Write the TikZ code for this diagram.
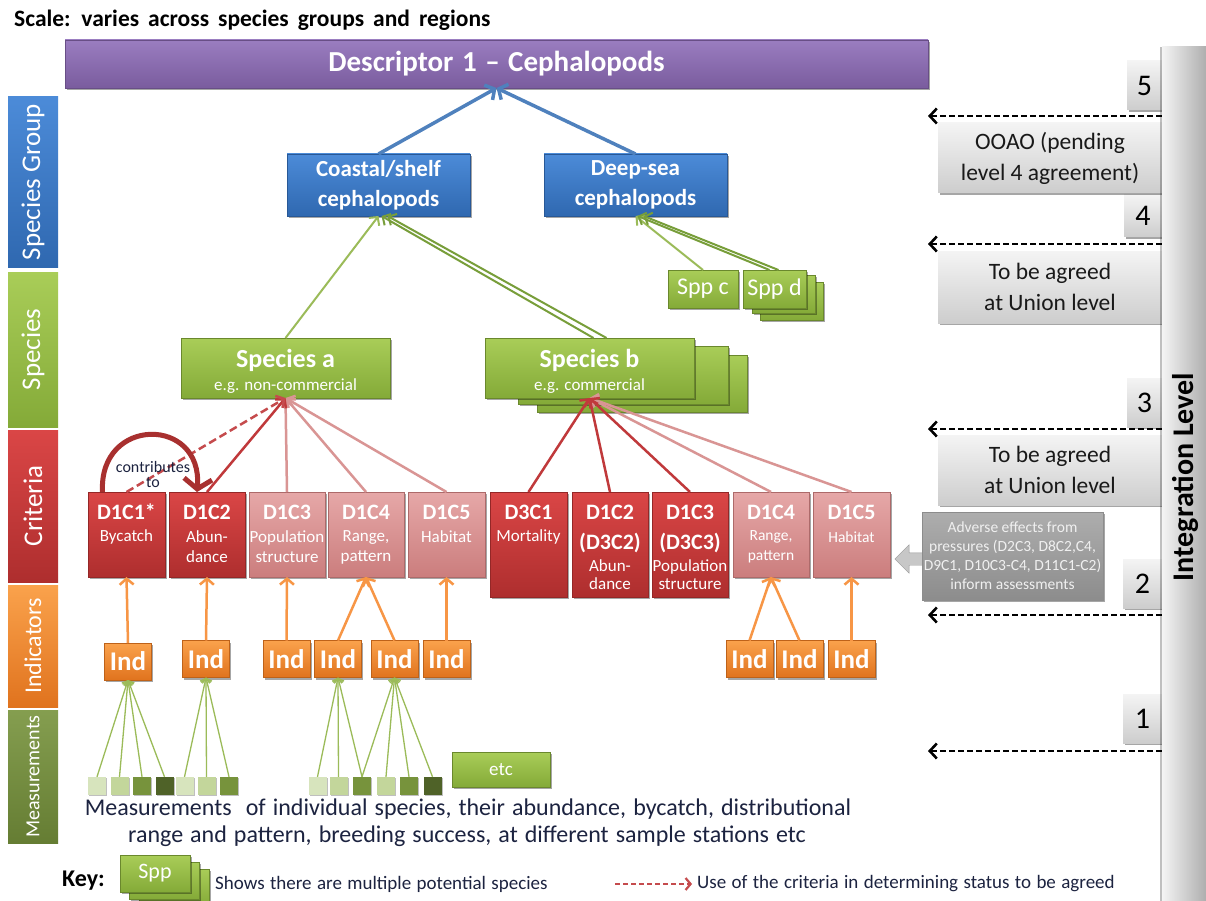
\documentclass[tikz,border=0pt]{standalone}
\usepackage{fontspec}
\setmainfont{Carlito}
\usetikzlibrary{arrows.meta,shadows,shapes.arrows}

\definecolor{purpleA}{HTML}{9A7DC0}
\definecolor{purpleB}{HTML}{7A5C9E}
\definecolor{blueA}{HTML}{4C8BD8}
\definecolor{blueB}{HTML}{2F68B0}
\definecolor{blueLine}{HTML}{4F81BD}
\definecolor{greenA}{HTML}{A9CD58}
\definecolor{greenB}{HTML}{84AA38}
\definecolor{greenLine}{HTML}{9BBB59}
\definecolor{greenDark}{HTML}{789E3A}
\definecolor{redA}{HTML}{DA4646}
\definecolor{redB}{HTML}{AE2E2E}
\definecolor{redLine}{HTML}{C0393B}
\definecolor{pinkA}{HTML}{E6A8A8}
\definecolor{pinkB}{HTML}{CB7D7D}
\definecolor{pinkLine}{HTML}{D99594}
\definecolor{orangeA}{HTML}{FAA24C}
\definecolor{orangeB}{HTML}{E0731E}
\definecolor{orangeLine}{HTML}{F79646}
\definecolor{greyA}{HTML}{F4F4F4}
\definecolor{greyB}{HTML}{CDCDCD}
\definecolor{ink}{HTML}{1C2340}
\definecolor{m1}{HTML}{D7E4BD}
\definecolor{m2}{HTML}{C3D69B}
\definecolor{m3}{HTML}{77933C}
\definecolor{m4}{HTML}{4F6228}
\definecolor{contribRed}{HTML}{A8302F}

% widen the interword space of the current font by a factor
\newcommand{\widewords}[1]{\spaceskip=#1\fontdimen2\font plus 1pt\relax}

\begin{document}
\begin{tikzpicture}[x=1pt,y=-1pt,
  shad/.style={drop shadow={shadow xshift=1.5pt,shadow yshift=-2pt,opacity=.35,fill=black}},
  boxbase/.style={rectangle,inner sep=0pt,outer sep=0pt,shad},
  descbox/.style={boxbase,top color=purpleA,bottom color=purpleB,draw=purpleB!85!black,line width=.5pt,text=white,font=\bfseries\fontsize{29}{33}\selectfont\widewords{1.3}},
  grpbox/.style={boxbase,top color=blueA,bottom color=blueB,draw=blueB!85!black,line width=.5pt,minimum width=183pt,minimum height=62pt,text=white,align=center,font=\bfseries\fontsize{23}{30}\selectfont},
  sppbox/.style={boxbase,top color=greenA,bottom color=greenB,draw=greenB!80!black,line width=.5pt,text=white},
  darkcrit/.style={boxbase,top color=redA,bottom color=redB,draw=redB!85!black,line width=.5pt,minimum width=76pt},
  pinkcrit/.style={boxbase,top color=pinkA,bottom color=pinkB,draw=pinkB!85!black,line width=.5pt,minimum width=76pt},
  crittitle/.style={text=white,font=\bfseries\fontsize{22}{25}\selectfont,inner sep=0pt},
  critsub/.style={text=white,align=center,font=\fontsize{17}{20}\selectfont,inner sep=0pt},
  indbox/.style={boxbase,top color=orangeA,bottom color=orangeB,draw=orangeB!85!black,line width=.5pt,minimum width=47pt,minimum height=37pt,text=white,font=\bfseries\fontsize{27}{30}\selectfont},
  msq/.style={rectangle,inner sep=0pt,minimum size=18pt,drop shadow={shadow xshift=1pt,shadow yshift=-1pt,opacity=.25,fill=black}},
  greybox/.style={boxbase,top color=greyA,bottom color=greyB,minimum width=224pt,align=center,text=black!90,font=\fontsize{23.5}{31}\selectfont},
  numbox/.style={boxbase,top color=greyA,bottom color=greyB,font=\fontsize{30}{34}\selectfont,text=black},
  band/.style={rectangle,inner sep=0pt,rotate=90,minimum height=50pt,text=white,font=\fontsize{27}{30}\selectfont},
  bluearr/.style={draw=blueLine,line width=3.5pt,-{Straight Barb[length=7pt,width=17pt]}},
  greenarr/.style={draw=greenLine,line width=2pt,-{Straight Barb[length=6pt,width=13pt]}},
  greenpair/.style={draw=greenDark,line width=2pt,-{Straight Barb[length=6pt,width=13pt]}},
  redarr/.style={draw=redLine,line width=2.5pt,-{Straight Barb[length=6pt,width=14pt]}},
  pinkarr/.style={draw=pinkLine,line width=2.5pt,-{Straight Barb[length=6pt,width=14pt]}},
  orangearr/.style={draw=orangeLine,line width=2.5pt,-{Straight Barb[length=6pt,width=14pt]}},
  measarr/.style={draw=greenLine,line width=1.3pt,-{Straight Barb[length=4pt,width=10pt]}},
  dasharr/.style={draw=black,line width=2.6pt,dash pattern=on 6pt off 3pt,-{Straight Barb[length=7pt,width=15pt]}},
  contribarr/.style={draw=contribRed,line width=5pt,-{Straight Barb[length=10pt,width=28pt]}}
]
\useasboundingbox (0,0) rectangle (1206,901);
\fill[white] (0,0) rectangle (1206,901);

% ---------- heading ----------
\node[anchor=west,inner sep=0pt,font=\bfseries\fontsize{23.5}{26}\selectfont\widewords{1.7}] (scale) at (14,20) {Scale: varies across species groups and regions};

% ---------- level bands on the left ----------
\node[band,top color=blueA,bottom color=blueB,minimum width=170pt] (bSG) at (33,182) {Species Group};
\node[band,top color=greenA,bottom color=greenB,minimum width=155pt] (bSP) at (33,349.5) {Species};
\node[band,top color=redA,bottom color=redB,minimum width=152pt] (bCR) at (33,506) {Criteria};
\node[band,top color=orangeA,bottom color=orangeB,minimum width=122pt,font=\fontsize{24}{27}\selectfont] (bIN) at (33,646) {Indicators};
\node[band,top color=m3!90!white,bottom color=m3!85!black,minimum width=133pt,font=\fontsize{20}{23}\selectfont] (bME) at (33,776.5) {Measurements};

% ---------- integration level column ----------
\node[numbox,minimum width=35pt,minimum height=49pt] (n5) at (1144.5,85.5) {5};
\node[numbox,minimum width=38pt,minimum height=42pt] (n4) at (1143,216) {4};
\node[numbox,minimum width=35pt,minimum height=49pt] (n3) at (1144.5,402.5) {3};
\node[numbox,minimum width=39pt,minimum height=49pt] (n2) at (1142.5,583.5) {2};
\node[numbox,minimum width=39pt,minimum height=49pt] (n1) at (1142.5,718.5) {1};

\node[greybox,minimum height=70pt] (g5) at (1050,158) {OOAO (pending\\level 4 agreement)};
\node[greybox,minimum height=72pt] (g4) at (1050,287) {To be agreed\\at Union level};
\node[greybox,minimum height=70pt] (g3) at (1050,470) {To be agreed\\at Union level};

\node[rectangle,inner sep=0pt,left color=greyA,right color=greyB!85!black,minimum width=44pt,minimum height=854pt,
      drop shadow={shadow xshift=-2pt,shadow yshift=0pt,opacity=.25,fill=black}] (bar) at (1184,474) {};
\node[rotate=90,inner sep=0pt,font=\bfseries\fontsize{30}{33}\selectfont] (barlabel) at (1185,477) {Integration Level};

\coordinate (t5) at (928,116);
\coordinate (t4) at (928,244);
\coordinate (t3) at (928,429);
\coordinate (t2) at (928,615);
\coordinate (t1) at (928,751);
\draw[dasharr] (bar.west |- t5) -- (t5);
\draw[dasharr] (bar.west |- t4) -- (t4);
\draw[dasharr] (bar.west |- t3) -- (t3);
\draw[dasharr] (bar.west |- t2) -- (t2);
\draw[dasharr] (bar.west |- t1) -- (t1);

% pressures box with its pointer
\node[single arrow,shape border rotate=180,draw=black!40,fill=black!22,inner sep=6pt,
      single arrow head extend=8pt,minimum height=28pt] (advarr) at (912,559) {};
\node[boxbase,top color=black!32,bottom color=black!45,draw=black!45,minimum width=181pt,minimum height=88pt,
      align=center,text=white!94!black,font=\fontsize{15.5}{19}\selectfont] (adv) at (1012.5,556)
      {Adverse effects from\\pressures (D2C3, D8C2,C4,\\D9C1, D10C3-C4, D11C1-C2)\\inform assessments};

% ---------- descriptor and species groups ----------
\node[descbox,minimum width=863pt,minimum height=48pt] (desc) at (496.5,64) {Descriptor 1 – Cephalopods};
\node[grpbox] (coast) at (378.5,185) {Coastal/shelf\\cephalopods};
\node[grpbox] (deep) at (635.5,185) {Deep-sea\\cephalopods};

\draw[bluearr] (coast.north) -- (desc.south);
\draw[bluearr] (deep.north) -- (desc.south);

% ---------- species ----------
\node[sppbox,minimum width=70pt,minimum height=38pt,font=\fontsize{24}{27}\selectfont] (sppc) at (703,289) {Spp c};
\node[sppbox,minimum width=63pt,minimum height=38pt] (sppd3) at (792,301) {};
\node[sppbox,minimum width=63pt,minimum height=38pt] (sppd2) at (783.5,294) {};
\node[sppbox,minimum width=63pt,minimum height=38pt,font=\fontsize{24}{27}\selectfont] (sppd) at (774.5,289) {Spp d};

\node[sppbox,minimum width=209pt,minimum height=60pt] (spa) at (285.5,368) {};
\node[text=white,inner sep=0pt,font=\bfseries\fontsize{26}{30}\selectfont] (spat) at ([yshift=8pt]spa.center) {Species a};
\node[text=white,inner sep=0pt,font=\fontsize{17}{19}\selectfont] (spas) at ([yshift=-18pt]spa.center) {e.g. non-commercial};

\node[sppbox,minimum width=210pt,minimum height=57pt] (spb3) at (642,383.5) {};
\node[sppbox,minimum width=210pt,minimum height=58pt] (spb2) at (623.5,375) {};
\node[sppbox,minimum width=209pt,minimum height=60pt] (spb) at (589.5,368) {};
\node[text=white,inner sep=0pt,font=\bfseries\fontsize{26}{30}\selectfont] (spbt) at ([yshift=8pt]spb.center) {Species b};
\node[text=white,inner sep=0pt,font=\fontsize{17}{19}\selectfont] (spbs) at ([yshift=-18pt]spb.center) {e.g. commercial};

\draw[greenarr] (spa.north) -- (coast.south);
\draw[greenpair] ([xshift=4pt]spb.north) -- ([xshift=3pt]coast.south);
\draw[greenpair] ([xshift=17pt]spb.north) -- ([xshift=9pt]coast.south);
\draw[greenarr] (sppc.north) -- (deep.south);
\draw[greenpair] ([xshift=-5pt]sppd.north) -- ([xshift=2pt]deep.south);
\draw[greenpair] ([xshift=4pt]sppd.north) -- ([xshift=8pt]deep.south);

% ---------- criteria ----------
\node[darkcrit,minimum width=77pt,minimum height=85pt] (c1) at (126.5,534.5) {};
\node[darkcrit,minimum height=85pt] (c2) at (207,534.5) {};
\node[pinkcrit,minimum height=85pt] (c3) at (287,534.5) {};
\node[pinkcrit,minimum height=85pt] (c4) at (366,534.5) {};
\node[pinkcrit,minimum width=77pt,minimum height=85pt] (c5) at (446.5,534.5) {};
\node[darkcrit,minimum width=77pt,minimum height=105pt] (c6) at (528.5,544.5) {};
\node[darkcrit,minimum height=105pt] (c7) at (610,544.5) {};
\node[darkcrit,minimum height=105pt] (c8) at (690,544.5) {};
\node[pinkcrit,minimum height=85pt] (c9) at (771,534.5) {};
\node[pinkcrit,minimum width=77pt,minimum height=85pt] (c10) at (851.5,534.5) {};

\node[crittitle] (ct1) at (126.5,512) {D1C1*};
\node[crittitle] (ct2) at (207,512) {D1C2};
\node[crittitle] (ct3) at (287,512) {D1C3};
\node[crittitle] (ct4) at (366,512) {D1C4};
\node[crittitle] (ct5) at (446.5,512) {D1C5};
\node[crittitle] (ct6) at (528.5,512) {D3C1};
\node[crittitle] (ct7) at (610,512) {D1C2};
\node[crittitle] (ct8) at (690,512) {D1C3};
\node[crittitle] (ct9) at (771,512) {D1C4};
\node[crittitle] (ct10) at (851.5,512) {D1C5};
\node[crittitle] (cp7) at (610,543) {(D3C2)};
\node[crittitle] (cp8) at (690,543) {(D3C3)};

\node[critsub] (cs1) at (126.5,537) {Bycatch};
\node[critsub] (cs2) at (207,547) {Abun-\\dance};
\node[critsub] (cs3) at (287,547) {Population\\structure};
\node[critsub] (cs4) at (366,547) {Range,\\pattern};
\node[critsub] (cs5) at (446.5,537) {Habitat};
\node[critsub] (cs6) at (528.5,537) {Mortality};
\node[critsub,font=\fontsize{17}{18}\selectfont] (cs7) at (610,575) {Abun-\\dance};
\node[critsub,font=\fontsize{17}{18}\selectfont] (cs8) at (690,575) {Population\\structure};
\node[critsub,font=\fontsize{15.5}{20}\selectfont] (cs9) at (771,547) {Range,\\pattern};
\node[critsub,font=\fontsize{15.5}{20}\selectfont] (cs10) at (851.5,537) {Habitat};

% criteria feeding the species
\draw[pinkarr] (c3.north) -- (spa.south);
\draw[pinkarr] (c4.north) -- (spa.south);
\draw[pinkarr] (c5.north) -- (spa.south);
\draw[redarr] (c2.north) -- (spa.south);
\draw[redarr,draw=redLine!80!pinkLine,dash pattern=on 8pt off 4pt] (c1.north) -- (spa.south);

\draw[pinkarr] (c9.north) -- (spb.south);
\draw[pinkarr] (c10.north) -- (spb.south);
\draw[redarr] (c6.north) -- (spb.south);
\draw[redarr] (c7.north) -- (spb.south);
\draw[redarr] (c8.north) -- (spb.south);

% bycatch contributes to abundance
\draw[contribarr] ([xshift=-24pt]c1.north) .. controls +(-4,-76) and +(6,-76) .. ([xshift=-10pt]c2.north);
\node[align=center,inner sep=0pt,text=ink,font=\fontsize{16}{15}\selectfont] (ctb) at (153,474) {contributes\\to};

% ---------- indicators ----------
\node[indbox] (i1) at (128,661.5) {Ind};
\node[indbox] (i2) at (206,659) {Ind};
\node[indbox] (i3) at (286.5,659) {Ind};
\node[indbox] (i4) at (338,659) {Ind};
\node[indbox] (i5) at (394.5,659) {Ind};
\node[indbox] (i6) at (446.5,659) {Ind};
\node[indbox] (i7) at (749.5,659) {Ind};
\node[indbox] (i8) at (799.5,659) {Ind};
\node[indbox] (i9) at (851.5,659) {Ind};

\draw[orangearr] (i1.north) -- (c1.south);
\draw[orangearr] (i2.north) -- (c2.south);
\draw[orangearr] (i3.north) -- (c3.south);
\draw[orangearr] (i4.north) -- (c4.south);
\draw[orangearr] (i5.north) -- (c4.south);
\draw[orangearr] (i6.north) -- (c5.south);
\draw[orangearr] (i7.north) -- (c9.south);
\draw[orangearr] (i8.north) -- (c9.south);
\draw[orangearr] (i9.north) -- (c10.south);

% ---------- measurements ----------
\node[msq,fill=m1] (q1) at (97,786) {};
\node[msq,fill=m2] (q2) at (119.5,786) {};
\node[msq,fill=m3] (q3) at (142,786) {};
\node[msq,fill=m4] (q4) at (164.5,786) {};
\node[msq,fill=m1] (q5) at (184.5,786) {};
\node[msq,fill=m2] (q6) at (206.5,786) {};
\node[msq,fill=m3] (q7) at (229,786) {};
\node[msq,fill=m1] (q8) at (317.5,786) {};
\node[msq,fill=m2] (q9) at (338.5,786) {};
\node[msq,fill=m3] (q10) at (362,786) {};
\node[msq,fill=m2] (q11) at (386,786) {};
\node[msq,fill=m3] (q12) at (409,786) {};
\node[msq,fill=m4] (q13) at (432.5,786) {};

\foreach \q in {q1,q2,q3,q4} \draw[measarr] (\q.north) -- (i1.south);
\foreach \q in {q5,q6,q7} \draw[measarr] (\q.north) -- (i2.south);
\foreach \q in {q8,q9,q10} \draw[measarr] (\q.north) -- (i4.south);
\foreach \q in {q10,q11,q12,q13} \draw[measarr] (\q.north) -- (i5.south);

\node[sppbox,minimum width=98pt,minimum height=35pt,font=\fontsize{19}{22}\selectfont] (etc) at (501,769.5) {etc};

\node[inner sep=0pt,text=ink,font=\fontsize{24}{27}\selectfont\widewords{1.3}] (mtxt1) at (468,809)
  {Measurements\ \ of individual species, their abundance, bycatch, distributional};
\node[inner sep=0pt,text=ink,font=\fontsize{24}{27}\selectfont\widewords{1.3}] (mtxt2) at (467,836)
  {range and pattern, breeding success, at different sample stations etc};

% ---------- key ----------
\node[anchor=west,inner sep=0pt,font=\bfseries\fontsize{24}{26}\selectfont] (key) at (62,881) {Key:};
\node[sppbox,minimum width=70pt,minimum height=37pt] (ks3) at (174,887.5) {};
\node[sppbox,minimum width=70pt,minimum height=37pt] (ks2) at (164,880.5) {};
\node[sppbox,minimum width=70pt,minimum height=37pt,font=\fontsize{22}{24}\selectfont] (ks1) at (155,873.5) {Spp};
\node[anchor=west,inner sep=0pt,text=ink,font=\fontsize{19}{21}\selectfont\widewords{1.25}] (kt1) at (215,884) {Shows there are multiple potential species};
\coordinate (ka) at (615,884);
\coordinate (kb) at (692,884);
\draw[redarr,line width=2.2pt,draw=redLine!80!pinkLine,dash pattern=on 5pt off 3pt,-{Straight Barb[length=5pt,width=12pt]}] (ka) -- (kb);
\node[anchor=west,inner sep=0pt,text=ink,font=\fontsize{19}{21}\selectfont\widewords{1.25}] (kt2) at (697,884) {Use of the criteria in determining status to be agreed};
\end{tikzpicture}
\end{document}
